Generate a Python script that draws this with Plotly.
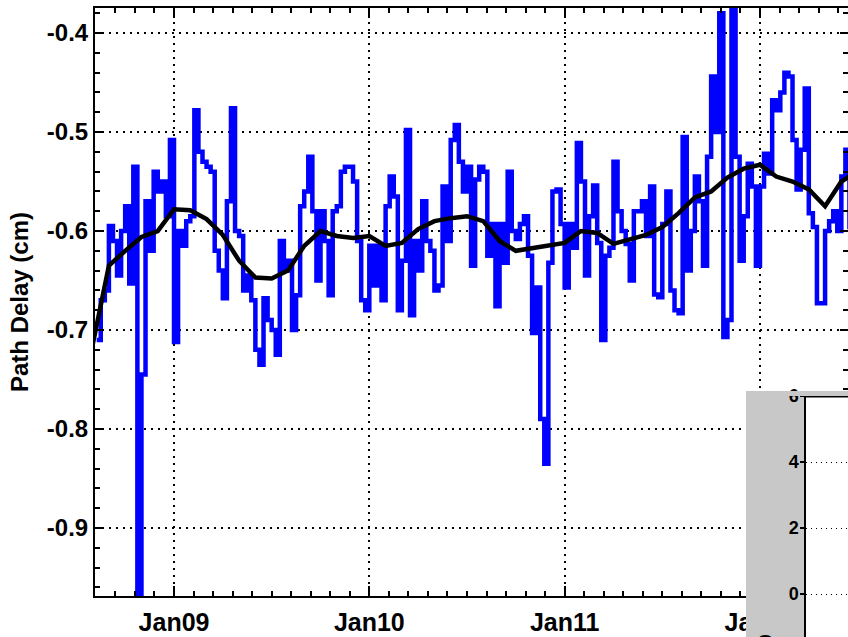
import pandas as pd
import plotly.graph_objects as go

# Half-hourly path delay (cm)
delay_start = "2011-01-08 14:30"
delay_cm = [
    -0.71, -0.67, -0.66, -0.595, -0.61, -0.645, -0.60, -0.575, -0.653, -0.535,
    -0.975, -0.745, -0.57, -0.62, -0.54, -0.56, -0.55, -0.585, -0.508, -0.712,
    -0.60, -0.615, -0.59, -0.585, -0.478, -0.52, -0.53, -0.535, -0.54, -0.62,
    -0.64, -0.668, -0.57, -0.476, -0.60, -0.605, -0.66, -0.645, -0.67, -0.72,
    -0.735, -0.668, -0.69, -0.70, -0.725, -0.61, -0.64, -0.63, -0.70, -0.665,
    -0.575, -0.56, -0.525, -0.58, -0.65, -0.58, -0.61, -0.665, -0.58, -0.575,
    -0.54, -0.535, -0.535, -0.55, -0.61, -0.67, -0.68, -0.615, -0.655, -0.615,
    -0.67, -0.575, -0.545, -0.565, -0.68, -0.63, -0.498, -0.685, -0.61, -0.64,
    -0.57, -0.61, -0.62, -0.66, -0.655, -0.555, -0.61, -0.508, -0.493, -0.53,
    -0.56, -0.535, -0.635, -0.548, -0.535, -0.54, -0.625, -0.593, -0.676, -0.593,
    -0.632, -0.54, -0.60, -0.608, -0.593, -0.585, -0.625, -0.703, -0.657, -0.79,
    -0.835, -0.632, -0.56, -0.558, -0.593, -0.657, -0.593, -0.617, -0.511, -0.55,
    -0.645, -0.585, -0.554, -0.612, -0.71, -0.625, -0.617, -0.53, -0.58, -0.60,
    -0.613, -0.65, -0.58, -0.58, -0.57, -0.605, -0.555, -0.664, -0.667, -0.593,
    -0.56, -0.66, -0.68, -0.683, -0.505, -0.64, -0.60, -0.545, -0.57, -0.635,
    -0.525, -0.444, -0.50, -0.38, -0.707, -0.69, -0.36, -0.525, -0.63, -0.585,
    -0.532, -0.555, -0.635, -0.555, -0.522, -0.542, -0.468, -0.478, -0.46, -0.44,
    -0.444, -0.508, -0.558, -0.518, -0.456, -0.582, -0.596, -0.673, -0.673, -0.60,
    -0.59, -0.58, -0.60, -0.545, -0.518, -0.596, -0.535, -0.496, -0.53,
]

# Smoothed curve, every 2 hours
smooth_start = "2011-01-08 14:00"
smooth_cm = [
    -0.715, -0.635, -0.62, -0.606, -0.60, -0.578, -0.579, -0.588, -0.604, -0.63,
    -0.647, -0.648, -0.64, -0.615, -0.60, -0.605, -0.607, -0.605, -0.615, -0.612,
    -0.598, -0.59, -0.587, -0.585, -0.59, -0.61, -0.62, -0.617, -0.614, -0.612,
    -0.60, -0.602, -0.613, -0.608, -0.604, -0.596, -0.582, -0.566, -0.56, -0.546,
    -0.537, -0.533, -0.545, -0.55, -0.558, -0.575, -0.55, -0.54,
]

y_ticks = [-0.9, -0.8, -0.7, -0.6, -0.5, -0.4]
y_labels = ["-0.9", "-0.8", "-0.7", "-0.6", "-0.5", "-0.4"]
inset_ticks = [0, 2, 4, 6]
inset_labels = ["0", "2", "4", "6"]
inset_range = [-1.3, 6]

W, H = 848, 637
FONT = "Liberation Sans, Arial, sans-serif"
GREY = "#c8c8c8"

# pixel layout of the cropped picture
panel_left, panel_top = 746, 391
inset_left, inset_top = 805, 396
inset_split = (inset_left - panel_left) / (W - panel_left)

delay_time = pd.date_range(delay_start, periods=len(delay_cm), freq="30min")
smooth_time = pd.date_range(smooth_start, periods=len(smooth_cm), freq="2h")

fig = go.Figure()
fig.add_trace(
    go.Scatter(
        x=delay_time,
        y=delay_cm,
        mode="lines",
        line={"color": "#0000ff", "width": 4.5, "shape": "hv"},
        showlegend=False,
    )
)
fig.add_trace(
    go.Scatter(
        x=smooth_time,
        y=smooth_cm,
        mode="lines",
        line={"color": "black", "width": 4.5},
        showlegend=False,
    )
)
# empty inset, drawn on its own subplot
fig.add_trace(go.Scatter(x=[], y=[], xaxis="x2", yaxis="y2", showlegend=False, hoverinfo="skip"))

dotted = "2px,5px"
fig.update_layout(
    template="none",
    width=W,
    height=H,
    margin={"l": 0, "r": 0, "t": 0, "b": 0},
    paper_bgcolor="white",
    plot_bgcolor="white",
    font={"family": FONT, "color": "black"},
    showlegend=False,
    xaxis={
        "domain": [95 / W, 1],
        "anchor": "y",
        "type": "date",
        "range": ["2011-01-08 14:17:30", "2011-01-12 10:49"],
        "tick0": "2011-01-09",
        "dtick": 86400000,
        "tickformat": "%b%d",
        "tickfont": {"size": 25, "family": FONT, "weight": "bold"},
        "ticks": "inside",
        "ticklen": 10,
        "tickwidth": 2,
        "tickcolor": "black",
        "ticklabelstandoff": 3,
        "showline": True,
        "linecolor": "black",
        "linewidth": 2,
        "mirror": "ticks",
        "showgrid": True,
        "gridcolor": "black",
        "gridwidth": 1.5,
        "griddash": dotted,
        "zeroline": False,
        "automargin": False,
        "minor": {
            "tick0": "2011-01-09",
            "dtick": 8640000,
            "ticks": "inside",
            "ticklen": 5,
            "tickwidth": 1.5,
            "tickcolor": "black",
            "showgrid": False,
        },
    },
    yaxis={
        "domain": [41 / H, 629 / H],
        "anchor": "x",
        "range": [-0.9687, -0.3747],
        "tickmode": "array",
        "tickvals": y_ticks,
        "ticktext": y_labels,
        "tickfont": {"size": 24, "family": FONT, "weight": "bold"},
        "ticks": "inside",
        "ticklen": 8,
        "tickwidth": 2,
        "tickcolor": "black",
        "ticklabelstandoff": 0,
        "showline": True,
        "linecolor": "black",
        "linewidth": 2,
        "mirror": "ticks",
        "showgrid": True,
        "gridcolor": "black",
        "gridwidth": 1.5,
        "griddash": dotted,
        "zeroline": False,
        "automargin": False,
        "title": {
            "text": "Path Delay (cm)",
            "font": {"size": 24, "family": FONT, "weight": "bold"},
            "standoff": 11,
        },
        "minor": {
            "tick0": -0.4,
            "dtick": 0.02,
            "ticks": "inside",
            "ticklen": 5,
            "tickwidth": 1.5,
            "tickcolor": "black",
            "showgrid": False,
        },
    },
    # inset subplot spans the whole grey panel; its y axis sits at the inset edge
    xaxis2={
        "domain": [panel_left / W, 1],
        "anchor": "y2",
        "range": [0, 1],
        "visible": False,
    },
    yaxis2={
        "domain": [0, (H - inset_top) / H],
        "anchor": "free",
        "position": inset_left / W,
        "range": inset_range,
        "tickmode": "array",
        "tickvals": inset_ticks,
        "ticktext": inset_labels,
        "tickfont": {"size": 18, "family": FONT, "weight": "bold", "color": "black"},
        "ticks": "outside",
        "ticklen": 4,
        "tickwidth": 1.5,
        "tickcolor": "black",
        "ticklabelstandoff": -2,
        "showline": True,
        "linecolor": "black",
        "linewidth": 1.5,
        "showgrid": True,
        "gridcolor": "black",
        "gridwidth": 1,
        "griddash": "1px,4px",
        "zeroline": False,
        "automargin": False,
    },
    shapes=[
        # white plotting area of the inset
        {
            "type": "rect", "xref": "x2", "yref": "y2",
            "x0": inset_split, "x1": 1, "y0": inset_range[0], "y1": inset_range[1],
            "fillcolor": "white", "line": {"width": 0}, "layer": "below",
        },
        # grey frame left of the inset axis (covers the grid there)
        {
            "type": "rect", "xref": "x2", "yref": "y2",
            "x0": 0, "x1": inset_split, "y0": inset_range[0], "y1": inset_range[1],
            "fillcolor": GREY, "line": {"width": 0}, "layer": "between",
        },
        # grey strip above the inset
        {
            "type": "rect", "xref": "paper", "yref": "paper",
            "x0": panel_left / W, "x1": 1,
            "y0": (H - inset_top) / H, "y1": (H - panel_top) / H,
            "fillcolor": GREY, "line": {"width": 0}, "layer": "above",
        },
        # top border of the inset
        {
            "type": "line", "xref": "x2", "yref": "y2",
            "x0": inset_split, "x1": 1, "y0": inset_range[1], "y1": inset_range[1],
            "line": {"color": "black", "width": 3}, "layer": "between",
        },
    ],
    annotations=[
        {
            "text": "O",
            "xref": "paper",
            "yref": "paper",
            "x": 765 / W,
            "y": (H - 643) / H,
            "xanchor": "center",
            "yanchor": "middle",
            "showarrow": False,
            "font": {"size": 24, "family": FONT, "weight": "bold"},
        }
    ],
)

fig.write_html(
    "out.html",
    config={"displayModeBar": False},
    post_script="document.body.style.margin='0';document.body.style.overflow='hidden';",
)
